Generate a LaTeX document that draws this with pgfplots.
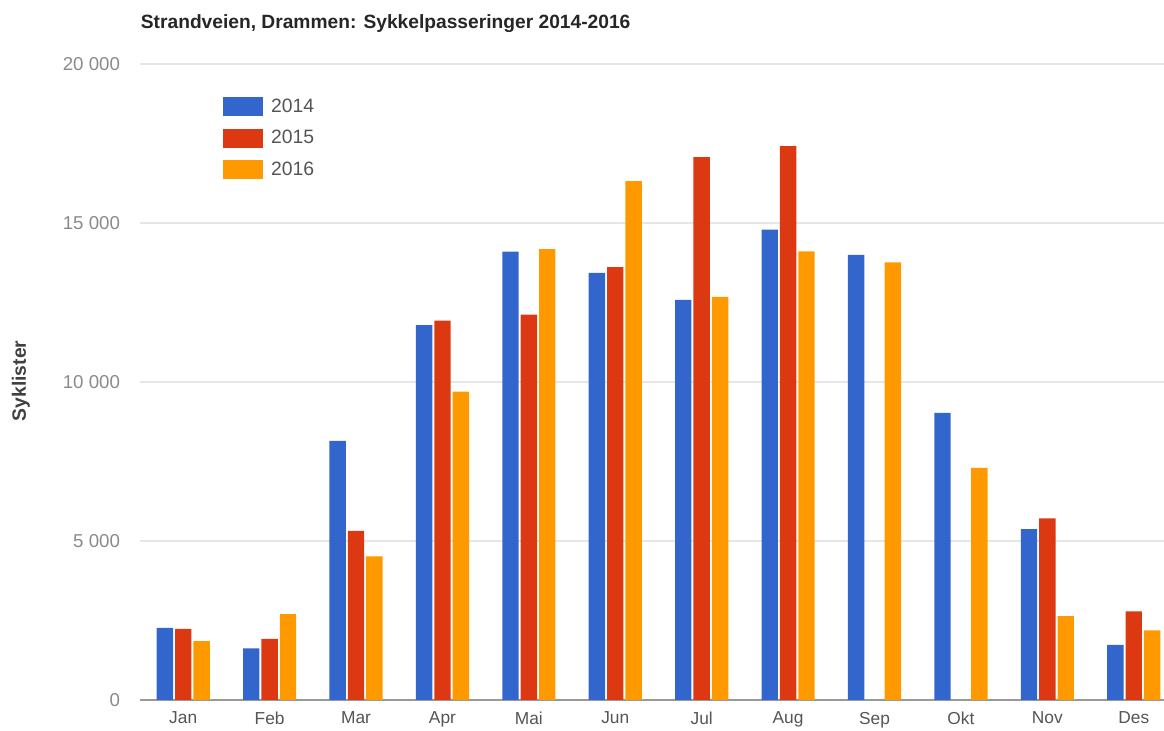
\documentclass[border=0pt]{standalone}
\usepackage{pgfplots}
\pgfplotsset{compat=1.18}
\usepackage{fontspec}
\setmainfont{Liberation Sans}
\definecolor{c14}{HTML}{3366CC}
\definecolor{c15}{HTML}{DC3912}
\definecolor{c16}{HTML}{FF9900}
\definecolor{tickgray}{HTML}{8A8A8A}
\definecolor{xgray}{HTML}{555555}
\definecolor{gridgray}{HTML}{E6E6E6}
\begin{document}
\begin{tikzpicture}
\useasboundingbox (0,0) rectangle (873pt,548.25pt);
\begin{axis}[
  at={(105pt,23.25pt)}, anchor=south west,
  scale only axis, width=768pt, height=477pt,
  ybar=1.5pt, bar width=12.3pt,
  xmin=-0.5, xmax=11.35, ymin=0, ymax=20000,
  scaled y ticks=false,
  xtick={0,...,11},
  xticklabels={Jan,Feb,Mar,Apr,Mai,Jun,Jul,Aug,Sep,Okt,Nov,Des},
  ytick={0,5000,10000,15000,20000},
  yticklabels={0,5 000,10 000,15 000,20 000},
  ymajorgrids, grid style={gridgray, line width=0.9pt},
  extra y ticks={0}, extra y tick labels={},
  extra y tick style={grid style={black!40, line width=1.3pt}},
  major tick length=0pt,
  axis line style={draw=none},
  yticklabel style={font=\fontsize{14}{16}\selectfont, text=tickgray, xshift=-11.5pt},
  xticklabel style={font=\fontsize{13}{15}\selectfont, text=xgray, yshift=-5.5pt},
  legend image code/.code={\fill[#1] (0pt,-7.2pt) rectangle (30pt,7.2pt);},
  legend style={draw=none, fill=none, at={(0.077,0.954)}, anchor=north west,
    font=\fontsize{14.5}{16}\selectfont, text=xgray, row sep=8pt,
    /tikz/every odd column/.append style={column sep=4pt}},
  legend cell align=left,
  clip=false,
]
\addplot[fill=c14, draw=none] coordinates {(0,2270) (1,1620) (2,8150) (3,11790) (4,14100) (5,13430) (6,12580) (7,14790) (8,14000) (9,9030) (10,5370) (11,1730)};
\addplot[fill=c15, draw=none] coordinates {(0,2240) (1,1920) (2,5320) (3,11930) (4,12120) (5,13610) (6,17070) (7,17420) (10,5710) (11,2790)};
\addplot[fill=c16, draw=none] coordinates {(0,1850) (1,2700) (2,4520) (3,9700) (4,14180) (5,16320) (6,12680) (7,14110) (8,13760) (9,7300) (10,2640) (11,2190)};
\legend{2014,2015,2016}
\end{axis}
\node[anchor=west, inner sep=0pt, font=\bfseries\fontsize{14.4}{16}\selectfont, text=black!85] at (105.5pt,530.25pt) {Strandveien, Drammen: Sykkelpasseringer 2014-2016};
\node[rotate=90, font=\bfseries\fontsize{14.5}{16}\selectfont, text=black!75] at (15.75pt,262.5pt) {Syklister};
\end{tikzpicture}
\end{document}
